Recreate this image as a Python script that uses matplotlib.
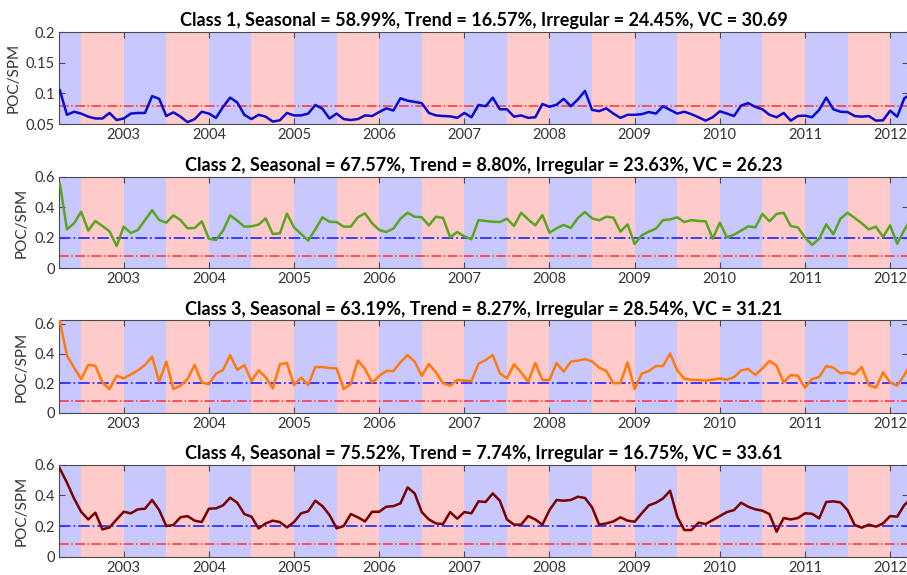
import numpy as np
import matplotlib
matplotlib.use("Agg")
import matplotlib.pyplot as plt

plt.rcParams['font.family'] = ['Lato', 'DejaVu Sans']

start_year = 2002.25  # April 2002, monthly series

class1 = [0.105, 0.065, 0.070, 0.067, 0.062, 0.059, 0.059, 0.068, 0.0565, 0.059,
          0.067, 0.068, 0.068, 0.0955, 0.091, 0.063, 0.069, 0.062, 0.053, 0.058,
          0.070, 0.067, 0.060, 0.078, 0.093, 0.085, 0.065, 0.058, 0.065, 0.062,
          0.054, 0.056, 0.068, 0.064, 0.064, 0.067, 0.081, 0.075, 0.059, 0.067,
          0.058, 0.0565, 0.058, 0.064, 0.063, 0.0695, 0.0755, 0.072, 0.092, 0.088,
          0.086, 0.084, 0.068, 0.064, 0.063, 0.0625, 0.060, 0.068, 0.061, 0.081,
          0.079, 0.093, 0.074, 0.074, 0.062, 0.064, 0.060, 0.061, 0.0826, 0.078,
          0.0815, 0.091, 0.079, 0.090, 0.104, 0.073, 0.071, 0.0755, 0.067, 0.060,
          0.065, 0.065, 0.066, 0.0695, 0.067, 0.079, 0.073, 0.067, 0.070, 0.066,
          0.061, 0.0555, 0.061, 0.0707, 0.067, 0.063, 0.080, 0.084, 0.078, 0.074,
          0.065, 0.061, 0.068, 0.0555, 0.063, 0.0636, 0.061, 0.073, 0.093, 0.074,
          0.070, 0.0695, 0.063, 0.062, 0.063, 0.0555, 0.056, 0.0717, 0.062, 0.092,
          0.099]

class2 = [0.556, 0.255, 0.295, 0.371, 0.247, 0.310, 0.277, 0.242, 0.146, 0.273,
          0.231, 0.251, 0.316, 0.380, 0.316, 0.299, 0.347, 0.316, 0.262, 0.264,
          0.308, 0.194, 0.185, 0.247, 0.347, 0.312, 0.273, 0.275, 0.286, 0.327,
          0.225, 0.229, 0.358, 0.268, 0.225, 0.181, 0.255, 0.334, 0.305, 0.303,
          0.273, 0.273, 0.334, 0.360, 0.295, 0.251, 0.238, 0.260, 0.325, 0.364,
          0.338, 0.334, 0.281, 0.338, 0.330, 0.203, 0.238, 0.209, 0.190, 0.316,
          0.310, 0.305, 0.303, 0.325, 0.277, 0.364, 0.320, 0.281, 0.349, 0.233,
          0.262, 0.284, 0.264, 0.330, 0.369, 0.327, 0.314, 0.338, 0.332, 0.240,
          0.288, 0.159, 0.216, 0.240, 0.260, 0.316, 0.320, 0.334, 0.303, 0.316,
          0.310, 0.308, 0.194, 0.299, 0.203, 0.220, 0.247, 0.275, 0.268, 0.356,
          0.308, 0.356, 0.364, 0.277, 0.268, 0.203, 0.153, 0.194, 0.288, 0.223,
          0.325, 0.364, 0.330, 0.295, 0.255, 0.273, 0.205, 0.281, 0.161, 0.251,
          0.330]

class3 = [0.620, 0.386, 0.305, 0.228, 0.323, 0.318, 0.205, 0.160, 0.250, 0.232,
          0.259, 0.286, 0.323, 0.379, 0.210, 0.345, 0.160, 0.183, 0.228, 0.323,
          0.205, 0.192, 0.264, 0.289, 0.390, 0.289, 0.323, 0.214, 0.286, 0.241,
          0.165, 0.327, 0.336, 0.187, 0.237, 0.187, 0.309, 0.309, 0.302, 0.300,
          0.160, 0.194, 0.354, 0.296, 0.203, 0.248, 0.282, 0.282, 0.341, 0.390,
          0.345, 0.250, 0.329, 0.273, 0.200, 0.183, 0.221, 0.217, 0.214, 0.332,
          0.356, 0.390, 0.268, 0.232, 0.327, 0.273, 0.210, 0.336, 0.221, 0.221,
          0.336, 0.277, 0.345, 0.352, 0.363, 0.347, 0.305, 0.282, 0.200, 0.200,
          0.341, 0.160, 0.264, 0.282, 0.316, 0.316, 0.401, 0.286, 0.230, 0.223,
          0.221, 0.217, 0.223, 0.232, 0.223, 0.241, 0.286, 0.296, 0.255, 0.300,
          0.350, 0.318, 0.205, 0.255, 0.250, 0.169, 0.228, 0.241, 0.316, 0.305,
          0.266, 0.273, 0.259, 0.309, 0.187, 0.169, 0.273, 0.205, 0.183, 0.255,
          0.340]

class4 = [0.574, 0.483, 0.380, 0.293, 0.243, 0.287, 0.178, 0.191, 0.243, 0.293,
          0.283, 0.309, 0.313, 0.370, 0.304, 0.200, 0.207, 0.257, 0.265, 0.235,
          0.226, 0.313, 0.315, 0.335, 0.385, 0.352, 0.278, 0.261, 0.185, 0.217,
          0.235, 0.226, 0.191, 0.226, 0.283, 0.296, 0.365, 0.330, 0.272, 0.185,
          0.200, 0.278, 0.257, 0.230, 0.293, 0.293, 0.326, 0.330, 0.348, 0.452,
          0.413, 0.291, 0.243, 0.217, 0.213, 0.291, 0.248, 0.291, 0.283, 0.361,
          0.357, 0.413, 0.365, 0.243, 0.209, 0.209, 0.265, 0.243, 0.209, 0.304,
          0.370, 0.365, 0.370, 0.391, 0.383, 0.322, 0.209, 0.217, 0.230, 0.257,
          0.235, 0.228, 0.283, 0.335, 0.352, 0.380, 0.430, 0.261, 0.174, 0.174,
          0.222, 0.213, 0.239, 0.265, 0.291, 0.304, 0.352, 0.326, 0.309, 0.300,
          0.278, 0.163, 0.252, 0.243, 0.252, 0.283, 0.280, 0.250, 0.357, 0.361,
          0.354, 0.304, 0.207, 0.189, 0.209, 0.196, 0.217, 0.265, 0.261, 0.337,
          0.380]

titles = [
    "Class 1, Seasonal = 58.99%, Trend = 16.57%, Irregular = 24.45%, VC = 30.69",
    "Class 2, Seasonal = 67.57%, Trend = 8.80%, Irregular = 23.63%, VC = 26.23",
    "Class 3, Seasonal = 63.19%, Trend = 8.27%, Irregular = 28.54%, VC = 31.21",
    "Class 4, Seasonal = 75.52%, Trend = 7.74%, Irregular = 16.75%, VC = 33.61",
]
series = [class1, class2, class3, class4]
line_colors = ['#0a0ad0', '#5aa51e', '#ff7a0a', '#7a0000']
ylims = [(0.05, 0.2), (0, 0.6), (0, 0.625), (0, 0.6)]
yticks = [[0.05, 0.1, 0.15, 0.2], [0, 0.2, 0.4, 0.6], [0, 0.2, 0.4, 0.6], [0, 0.2, 0.4, 0.6]]
yticklabels = [["0.05", "0.1", "0.15", "0.2"], ["0", "0.2", "0.4", "0.6"],
               ["0", "0.2", "0.4", "0.6"], ["0", "0.2", "0.4", "0.6"]]
year_ticks = [2003, 2004, 2005, 2006, 2007, 2008, 2009, 2010, 2011, 2012]
threshold_high = 0.2
threshold_low = 0.08

fig = plt.figure(figsize=(9.07, 5.75), dpi=100)
W, H = 907.0, 575.0
left_px, right_px = 59, 908
tops = [32, 176.7, 320.3, 464.7]
bottoms = [124, 268.3, 412.7, 556.7]

xmin, xmax = 2002.24, 2012.21
spine_col = '#4a4a4a'

for k in range(4):
    ax = fig.add_axes([left_px / W, 1 - bottoms[k] / H, (right_px - left_px) / W,
                       (bottoms[k] - tops[k]) / H])
    for yr in range(2002, 2013):
        ax.axvspan(yr, yr + 0.5, color='#c8c8ff', lw=0, zorder=0)
        ax.axvspan(yr + 0.5, yr + 1.0, color='#ffcaca', lw=0, zorder=0)
    vals = np.array(series[k])
    x = start_year + np.arange(len(vals)) / 12.0
    ax.axhline(threshold_high, color='#3030ff', ls='-.', lw=1.3, zorder=2)
    ax.axhline(threshold_low, color='#ff3030', ls='-.', lw=1.1, zorder=2)
    ax.plot(x, vals, color=line_colors[k], lw=1.8, zorder=3)
    ax.set_xlim(xmin, xmax)
    ax.set_ylim(*ylims[k])
    ax.set_yticks(yticks[k])
    ax.set_yticklabels(yticklabels[k])
    ax.set_xticks(year_ticks)
    ax.set_xticklabels([str(y) for y in year_ticks])
    ax.tick_params(direction='in', top=True, right=True, length=4, width=0.8,
                   color=spine_col, labelsize=10.5, labelcolor='#333333', pad=3)
    for s in ax.spines.values():
        s.set_color(spine_col)
        s.set_linewidth(0.8)
    ax.set_ylabel("POC/SPM", fontsize=11, color='#333333', labelpad=4)
    ax.set_title(titles[k], fontsize=13, fontweight='bold', pad=4)

fig.savefig("out.png", dpi=100)
